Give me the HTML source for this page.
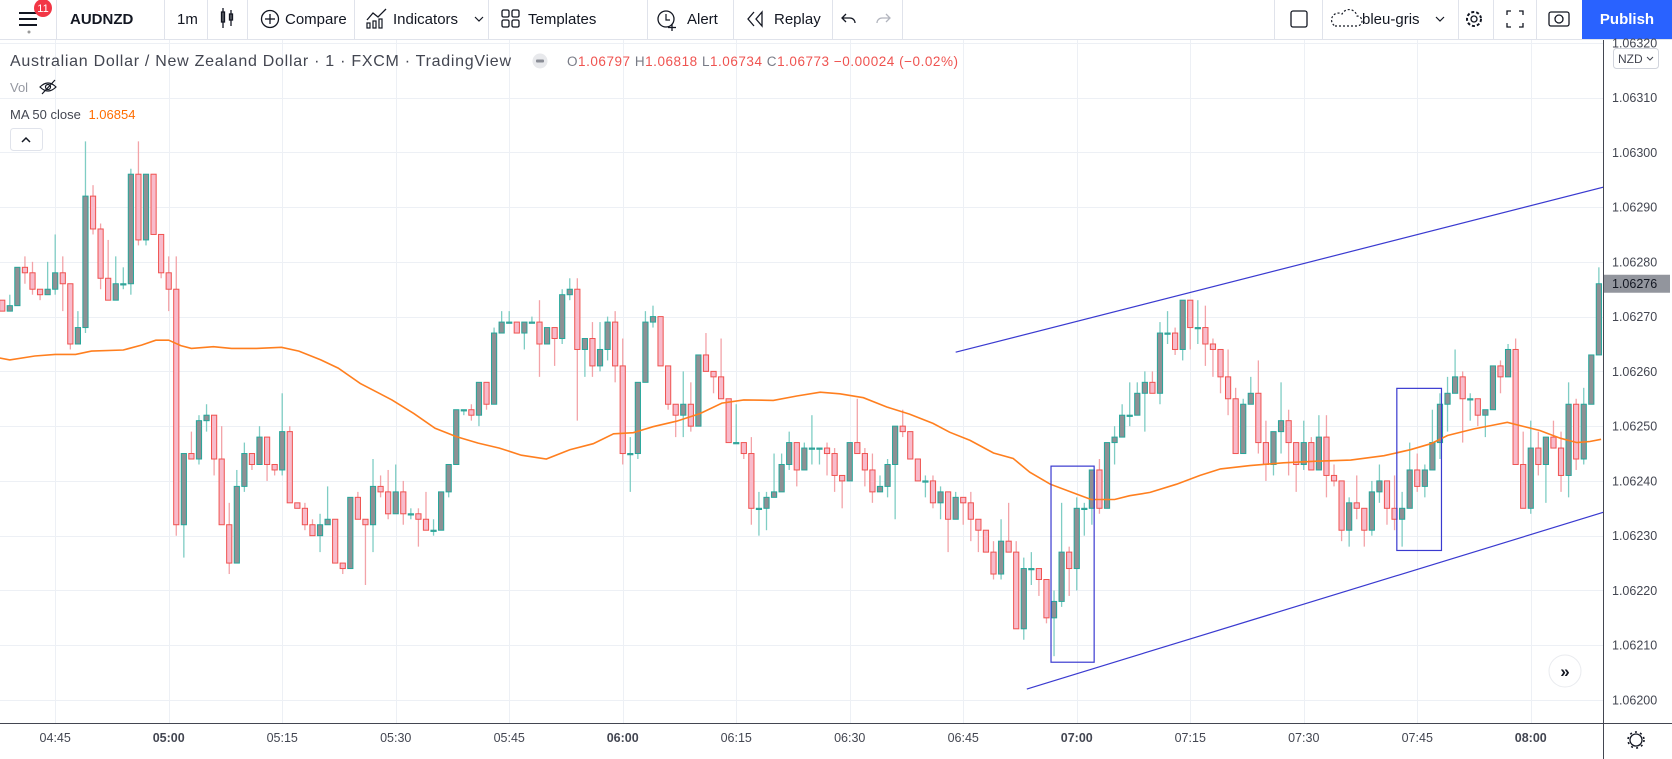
<!DOCTYPE html>
<html><head><meta charset="utf-8"><style>
html,body{margin:0;padding:0;background:#fff;}
svg{display:block;font-family:"Liberation Sans",sans-serif;}
</style></head><body>
<svg id="chart" width="1672" height="759" viewBox="0 0 1672 759" xmlns="http://www.w3.org/2000/svg">
<g id="grid"></g>
<g id="plot"></g>
<!-- toolbar -->
<g>
<rect x="0" y="0" width="1672" height="39" fill="#fff"/>
<line x1="0" y1="39.5" x2="1672" y2="39.5" stroke="#e0e3eb"/>
<g stroke="#131722" stroke-width="2"><line x1="19" y1="13" x2="37" y2="13"/><line x1="19" y1="19" x2="37" y2="19"/><line x1="19" y1="25" x2="37" y2="25"/></g>
<circle cx="29" cy="32" r="1.5" fill="#999"/>
<g><circle cx="43" cy="8" r="9" fill="#f23645"/><text x="43" y="12" font-size="11" fill="#fff" text-anchor="middle">11</text></g>
<g stroke="#e0e3eb"><line x1="56.5" y1="0" x2="56.5" y2="39"/><line x1="164.5" y1="0" x2="164.5" y2="39"/><line x1="207.5" y1="0" x2="207.5" y2="39"/><line x1="247.5" y1="0" x2="247.5" y2="39"/><line x1="354.5" y1="0" x2="354.5" y2="39"/><line x1="488.5" y1="0" x2="488.5" y2="39"/><line x1="647.5" y1="0" x2="647.5" y2="39"/><line x1="733.5" y1="0" x2="733.5" y2="39"/><line x1="832.5" y1="0" x2="832.5" y2="39"/><line x1="902.5" y1="0" x2="902.5" y2="39"/>
<line x1="1274.5" y1="0" x2="1274.5" y2="39"/><line x1="1322.5" y1="0" x2="1322.5" y2="39"/><line x1="1458.5" y1="0" x2="1458.5" y2="39"/><line x1="1493.5" y1="0" x2="1493.5" y2="39"/><line x1="1536.5" y1="0" x2="1536.5" y2="39"/></g>
<text x="70" y="24" font-size="15" font-weight="bold" fill="#131722">AUDNZD</text>
<text x="177" y="24" font-size="15" fill="#131722">1m</text>
<g stroke="#131722" fill="none" stroke-width="1.3"><rect x="221.5" y="12" width="3" height="10"/><line x1="223" y1="8" x2="223" y2="28"/><rect x="229.5" y="14" width="3" height="6"/><line x1="231" y1="10" x2="231" y2="26"/></g>
<g><circle cx="270" cy="19" r="8.5" fill="none" stroke="#131722" stroke-width="1.3"/><line x1="265" y1="19" x2="275" y2="19" stroke="#131722" stroke-width="1.3"/><line x1="270" y1="14" x2="270" y2="24" stroke="#131722" stroke-width="1.3"/><text x="285" y="24" font-size="15" fill="#131722">Compare</text></g>
<g><polyline points="367,20 373,13 378,17 386,9" fill="none" stroke="#131722" stroke-width="1.3"/><g fill="none" stroke="#131722" stroke-width="1.2"><rect x="367" y="23" width="3" height="5"/><rect x="373" y="21" width="3" height="7"/><rect x="379" y="19" width="3" height="9"/></g><text x="393" y="24" font-size="15" fill="#131722">Indicators</text><polyline points="475,17 479,21 483,17" fill="none" stroke="#131722" stroke-width="1.2"/></g>
<g><g fill="none" stroke="#131722" stroke-width="1.3"><rect x="502" y="10" width="7" height="7" rx="1.5"/><rect x="512" y="10" width="7" height="7" rx="1.5"/><rect x="502" y="20" width="7" height="7" rx="1.5"/><rect x="512" y="20" width="7" height="7" rx="1.5"/></g><text x="528" y="24" font-size="15" fill="#131722">Templates</text></g>
<g><circle cx="666" cy="19" r="8" fill="none" stroke="#131722" stroke-width="1.3"/><polyline points="666,14 666,20 670,20" fill="none" stroke="#131722" stroke-width="1.2"/><line x1="672" y1="24" x2="672" y2="31" stroke="#131722" stroke-width="1.3"/><line x1="668" y1="27.5" x2="676" y2="27.5" stroke="#131722" stroke-width="1.3"/><text x="687" y="24" font-size="15" fill="#131722">Alert</text></g>
<g><polyline points="754,12 748,19 754,26" fill="none" stroke="#131722" stroke-width="1.3"/><polygon points="762,12 756,19 762,26" fill="none" stroke="#131722" stroke-width="1.3"/><text x="774" y="24" font-size="15" fill="#131722">Replay</text></g>
<g><path d="M846 14 l-4 4 l4 4 M842 18 h8 a5 5 0 0 1 5 5" fill="none" stroke="#131722" stroke-width="1.3"/></g>
<g><path d="M886 14 l4 4 l-4 4 M890 18 h-8 a5 5 0 0 0 -5 5" fill="none" stroke="#b2b5be" stroke-width="1.3"/></g>
<rect x="1291" y="11" width="16" height="16" rx="2" fill="none" stroke="#131722" stroke-width="1.3"/>
<g><path d="M1335 26 h22 a5 5 0 0 0 0 -10 a8 8 0 0 0 -15 -2 a6 6 0 0 0 -7 12z" fill="none" stroke="#131722" stroke-width="1.2" stroke-dasharray="2 2"/><text x="1362" y="24" font-size="15" fill="#131722">bleu-gris</text><polyline points="1436,17 1440,21 1444,17" fill="none" stroke="#131722" stroke-width="1.2"/></g>
<g><circle cx="1474" cy="19" r="7" fill="none" stroke="#131722" stroke-width="2" stroke-dasharray="3 2"/><circle cx="1474" cy="19" r="3" fill="none" stroke="#131722" stroke-width="1.3"/></g>
<g fill="none" stroke="#131722" stroke-width="1.3"><polyline points="1507,15 1507,11 1511,11"/><polyline points="1519,11 1523,11 1523,15"/><polyline points="1507,23 1507,27 1511,27"/><polyline points="1519,27 1523,27 1523,23"/></g>
<g fill="none" stroke="#131722" stroke-width="1.3"><rect x="1549" y="12" width="20" height="14" rx="2"/><circle cx="1559" cy="19" r="4"/></g>
<g><rect x="1582" y="0" width="90" height="39" fill="#2962ff"/><text x="1627" y="24" font-size="15" font-weight="bold" fill="#fff" text-anchor="middle">Publish</text></g>
</g>
<!-- legend -->
<g>
<text x="10" y="66" font-size="16" fill="#434651" textLength="501">Australian Dollar / New Zealand Dollar · 1 · FXCM · TradingView</text>
<g><circle cx="540" cy="61" r="7.5" fill="#e8e9ec"/><rect x="536" y="59.5" width="8" height="3" rx="1" fill="#8a8d96"/></g>
<text x="567" y="66" font-size="13.5" fill="#ef5350" textLength="391"><tspan fill="#787b86">O</tspan>1.06797 <tspan fill="#787b86">H</tspan>1.06818 <tspan fill="#787b86">L</tspan>1.06734 <tspan fill="#787b86">C</tspan>1.06773 −0.00024 (−0.02%)</text>
<text x="10" y="92" font-size="13" fill="#9598a1">Vol</text>
<g fill="none" stroke="#131722" stroke-width="1.2"><path d="M40 87 q8 -8 16 0 q-8 8 -16 0z"/><circle cx="48" cy="87" r="2.5"/><line x1="42" y1="94" x2="55" y2="80"/></g>
<text x="10" y="119" font-size="13" fill="#434651">MA 50 close <tspan fill="#ff6d00" dx="4">1.06854</tspan></text>
<g><rect x="10.5" y="128.5" width="32" height="22" rx="3" fill="#fff" stroke="#e0e3eb"/><polyline points="22,142 26,138 30,142" fill="none" stroke="#131722" stroke-width="1.5"/></g>
</g>
<!-- axes -->
<g id="axes"></g>
<g><circle cx="1565" cy="671" r="16" fill="#fff" stroke="#e9ebef"/><text x="1565" y="677" font-size="17" font-weight="bold" text-anchor="middle" fill="#131722">»</text></g>
</svg>
<script>
const NS="http://www.w3.org/2000/svg";
// ---- data ----
const startTime="04:38"; // first candle time, 1-minute bars
const opens=[1.06273,1.06271,1.06272,1.06279,1.06278,1.06275,1.06274,1.06275,1.06278,1.06276,1.06265,1.06268,1.06292,1.06286,1.06277,1.06273,1.06276,1.06276,1.06296,1.06284,1.06296,1.06285,1.06278,1.06275,1.06232,1.06245,1.06244,1.06251,1.06252,1.06244,1.06232,1.06225,1.06239,1.06245,1.06243,1.06248,1.06243,1.06242,1.06249,1.06236,1.06235,1.06232,1.06230,1.06232,1.06233,1.06225,1.06224,1.06237,1.06233,1.06232,1.06239,1.06238,1.06234,1.06238,1.06234,1.06234,1.06233,1.06231,1.06231,1.06238,1.06243,1.06253,1.06253,1.06252,1.06258,1.06254,1.06267,1.06269,1.06269,1.06267,1.06269,1.06269,1.06265,1.06268,1.06266,1.06274,1.06275,1.06264,1.06266,1.06261,1.06264,1.06269,1.06261,1.06245,1.06245,1.06258,1.06269,1.06270,1.06261,1.06254,1.06252,1.06254,1.06250,1.06263,1.06260,1.06259,1.06255,1.06247,1.06247,1.06245,1.06235,1.06235,1.06237,1.06238,1.06243,1.06247,1.06242,1.06246,1.06246,1.06246,1.06245,1.06241,1.06240,1.06247,1.06245,1.06242,1.06238,1.06239,1.06243,1.06250,1.06249,1.06244,1.06240,1.06240,1.06236,1.06238,1.06233,1.06237,1.06236,1.06233,1.06231,1.06227,1.06223,1.06229,1.06227,1.06213,1.06224,1.06224,1.06222,1.06215,1.06218,1.06227,1.06224,1.06235,1.06235,1.06242,1.06235,1.06247,1.06248,1.06252,1.06252,1.06256,1.06258,1.06256,1.06267,1.06267,1.06264,1.06273,1.06268,1.06268,1.06265,1.06264,1.06259,1.06255,1.06245,1.06254,1.06256,1.06247,1.06243,1.06249,1.06251,1.06247,1.06243,1.06247,1.06242,1.06248,1.06241,1.06240,1.06231,1.06236,1.06235,1.06231,1.06238,1.06240,1.06235,1.06233,1.06235,1.06242,1.06239,1.06242,1.06247,1.06254,1.06256,1.06259,1.06255,1.06255,1.06252,1.06253,1.06261,1.06259,1.06264,1.06243,1.06235,1.06246,1.06243,1.06248,1.06246,1.06241,1.06254,1.06244,1.06254,1.06263];
const highs=[1.06273,1.06274,1.06279,1.06281,1.06280,1.06275,1.06280,1.06285,1.06281,1.06276,1.06271,1.06302,1.06294,1.06287,1.06284,1.06281,1.06279,1.06297,1.06302,1.06296,1.06296,1.06285,1.06281,1.06281,1.06245,1.06249,1.06252,1.06254,1.06252,1.06250,1.06236,1.06242,1.06247,1.06245,1.06250,1.06248,1.06243,1.06256,1.06250,1.06236,1.06236,1.06233,1.06234,1.06239,1.06233,1.06225,1.06237,1.06238,1.06233,1.06244,1.06241,1.06242,1.06243,1.06240,1.06235,1.06235,1.06238,1.06233,1.06238,1.06243,1.06253,1.06253,1.06254,1.06258,1.06258,1.06268,1.06271,1.06271,1.06269,1.06269,1.06270,1.06273,1.06268,1.06268,1.06275,1.06277,1.06277,1.06266,1.06269,1.06269,1.06270,1.06271,1.06266,1.06248,1.06258,1.06271,1.06272,1.06270,1.06261,1.06254,1.06260,1.06258,1.06263,1.06267,1.06260,1.06266,1.06255,1.06254,1.06247,1.06248,1.06238,1.06238,1.06245,1.06245,1.06249,1.06247,1.06247,1.06252,1.06246,1.06247,1.06246,1.06241,1.06247,1.06255,1.06246,1.06245,1.06241,1.06244,1.06250,1.06253,1.06249,1.06244,1.06241,1.06241,1.06239,1.06238,1.06238,1.06237,1.06238,1.06233,1.06231,1.06229,1.06233,1.06236,1.06229,1.06226,1.06227,1.06224,1.06222,1.06220,1.06236,1.06228,1.06237,1.06236,1.06242,1.06244,1.06247,1.06250,1.06254,1.06258,1.06258,1.06260,1.06260,1.06269,1.06271,1.06268,1.06273,1.06273,1.06273,1.06272,1.06266,1.06264,1.06264,1.06257,1.06255,1.06259,1.06262,1.06251,1.06249,1.06258,1.06253,1.06247,1.06251,1.06248,1.06252,1.06252,1.06243,1.06240,1.06237,1.06241,1.06235,1.06240,1.06243,1.06240,1.06241,1.06238,1.06247,1.06245,1.06243,1.06253,1.06256,1.06259,1.06264,1.06260,1.06256,1.06255,1.06253,1.06261,1.06262,1.06265,1.06266,1.06249,1.06251,1.06249,1.06248,1.06251,1.06249,1.06258,1.06255,1.06257,1.06263,1.06279];
const lows=[1.06271,1.06271,1.06272,1.06276,1.06274,1.06273,1.06274,1.06274,1.06271,1.06264,1.06265,1.06267,1.06285,1.06275,1.06273,1.06273,1.06275,1.06274,1.06283,1.06283,1.06285,1.06277,1.06271,1.06230,1.06226,1.06244,1.06243,1.06249,1.06241,1.06232,1.06223,1.06225,1.06238,1.06242,1.06243,1.06240,1.06241,1.06241,1.06236,1.06235,1.06231,1.06230,1.06227,1.06232,1.06225,1.06223,1.06224,1.06233,1.06221,1.06227,1.06237,1.06233,1.06234,1.06232,1.06233,1.06228,1.06231,1.06230,1.06231,1.06237,1.06243,1.06252,1.06251,1.06250,1.06253,1.06254,1.06267,1.06269,1.06267,1.06264,1.06269,1.06259,1.06265,1.06261,1.06265,1.06273,1.06251,1.06259,1.06259,1.06260,1.06262,1.06258,1.06243,1.06238,1.06244,1.06258,1.06268,1.06261,1.06253,1.06248,1.06248,1.06249,1.06250,1.06260,1.06256,1.06255,1.06247,1.06247,1.06244,1.06232,1.06230,1.06231,1.06237,1.06238,1.06242,1.06239,1.06242,1.06243,1.06243,1.06241,1.06238,1.06235,1.06240,1.06245,1.06239,1.06236,1.06238,1.06237,1.06233,1.06248,1.06244,1.06240,1.06237,1.06235,1.06233,1.06227,1.06233,1.06232,1.06229,1.06227,1.06227,1.06222,1.06222,1.06227,1.06213,1.06211,1.06221,1.06219,1.06214,1.06208,1.06217,1.06219,1.06220,1.06230,1.06232,1.06234,1.06235,1.06243,1.06248,1.06250,1.06252,1.06249,1.06256,1.06254,1.06265,1.06263,1.06262,1.06264,1.06265,1.06261,1.06259,1.06256,1.06252,1.06245,1.06245,1.06254,1.06245,1.06240,1.06241,1.06245,1.06241,1.06238,1.06242,1.06242,1.06242,1.06237,1.06239,1.06229,1.06228,1.06233,1.06228,1.06230,1.06236,1.06232,1.06231,1.06228,1.06235,1.06238,1.06237,1.06242,1.06244,1.06249,1.06256,1.06247,1.06251,1.06250,1.06248,1.06253,1.06256,1.06259,1.06243,1.06235,1.06234,1.06241,1.06236,1.06246,1.06238,1.06237,1.06242,1.06243,1.06254,1.06263];
const closes=[1.06271,1.06272,1.06279,1.06278,1.06275,1.06274,1.06275,1.06278,1.06276,1.06265,1.06268,1.06292,1.06286,1.06277,1.06273,1.06276,1.06276,1.06296,1.06284,1.06296,1.06285,1.06278,1.06275,1.06232,1.06245,1.06244,1.06251,1.06252,1.06244,1.06232,1.06225,1.06239,1.06245,1.06243,1.06248,1.06243,1.06242,1.06249,1.06236,1.06235,1.06232,1.06230,1.06232,1.06233,1.06225,1.06224,1.06237,1.06233,1.06232,1.06239,1.06238,1.06234,1.06238,1.06234,1.06234,1.06233,1.06231,1.06231,1.06238,1.06243,1.06253,1.06253,1.06252,1.06258,1.06254,1.06267,1.06269,1.06269,1.06267,1.06269,1.06269,1.06265,1.06268,1.06266,1.06274,1.06275,1.06264,1.06266,1.06261,1.06264,1.06269,1.06261,1.06245,1.06245,1.06258,1.06269,1.06270,1.06261,1.06254,1.06252,1.06254,1.06250,1.06263,1.06260,1.06259,1.06255,1.06247,1.06247,1.06245,1.06235,1.06235,1.06237,1.06238,1.06243,1.06247,1.06242,1.06246,1.06246,1.06246,1.06245,1.06241,1.06240,1.06247,1.06245,1.06242,1.06238,1.06239,1.06243,1.06250,1.06249,1.06244,1.06240,1.06240,1.06236,1.06238,1.06233,1.06237,1.06236,1.06233,1.06231,1.06227,1.06223,1.06229,1.06227,1.06213,1.06224,1.06224,1.06222,1.06215,1.06218,1.06227,1.06224,1.06235,1.06235,1.06242,1.06235,1.06247,1.06248,1.06252,1.06252,1.06256,1.06258,1.06256,1.06267,1.06267,1.06264,1.06273,1.06268,1.06268,1.06265,1.06264,1.06259,1.06255,1.06245,1.06254,1.06256,1.06247,1.06243,1.06249,1.06251,1.06247,1.06243,1.06247,1.06242,1.06248,1.06241,1.06240,1.06231,1.06236,1.06235,1.06231,1.06238,1.06240,1.06235,1.06233,1.06235,1.06242,1.06239,1.06242,1.06247,1.06254,1.06256,1.06259,1.06255,1.06255,1.06252,1.06253,1.06261,1.06259,1.06264,1.06243,1.06235,1.06246,1.06243,1.06248,1.06246,1.06241,1.06254,1.06244,1.06254,1.06263,1.06276];
// MA 50 (minutes after 04:45, value)
const maMinutes=[-7.5,-6,-2.7,0,2.7,4.8,9,11.4,13.3,15,16.6,18,20.9,23.3,26.6,29.9,32.2,35.1,37.4,40.3,44.5,47.4,50.2,53,55.9,58.7,61.6,64.9,68,71.1,73.8,76.4,79,82.1,85.2,88.1,91,94.9,98,101.1,103.7,106.8,109.9,112.9,116,118.2,120.9,124,126.6,128.8,131.5,135,136.9,140,142,144.7,148.2,151.3,154,157.9,162.3,166.7,171.2,175.6,179.1,181.8,184,187.5,189.7,191.9,193.6,196.2,198.9,201.1,202.8,204.3];
const maValues=[1.062625,1.062621,1.062628,1.062631,1.062631,1.062637,1.062639,1.062648,1.062657,1.062657,1.062647,1.062642,1.062645,1.062642,1.062642,1.062644,1.062637,1.062621,1.062606,1.062578,1.062548,1.062523,1.062496,1.062481,1.062469,1.06246,1.062447,1.06244,1.062457,1.062468,1.062486,1.062488,1.062499,1.062509,1.062523,1.062542,1.062548,1.062547,1.062555,1.062562,1.062559,1.062552,1.062535,1.062522,1.062505,1.062489,1.062474,1.062451,1.062441,1.062416,1.062394,1.062376,1.062366,1.062366,1.062373,1.062379,1.062394,1.06241,1.062422,1.062428,1.062433,1.062436,1.062438,1.062446,1.062457,1.062468,1.062483,1.062495,1.062501,1.062507,1.062501,1.062492,1.062478,1.06247,1.062472,1.062476];
const priceTicks=[1.0620,1.0621,1.0622,1.0623,1.0624,1.0625,1.0626,1.0627,1.0628,1.0629,1.0630,1.0631,1.0632];
const timeTicks=["04:45","05:00","05:15","05:30","05:45","06:00","06:15","06:30","06:45","07:00","07:15","07:30","07:45","08:00"];
const lastPrice=1.06276;
// drawings: [time minutes after 04:45, price]
const upperTrend=[[119,1.062635],[206.5,1.062943]];
const lowerTrend=[[128.4,1.06202],[207.5,1.062355]];
const boxes=[[131.6,137.3,1.062427,1.062069],[177.3,183.2,1.062569,1.062273]];

// ---- scales ----
const X0=55.2, PXMIN=7.567, PLOT_R=1603, PLOT_T=40, PLOT_B=723;
function toMin(t){const p=t.split(":");return (+p[0])*60+(+p[1]);}
const REF=toMin("04:45");
function xMin(m){return X0+m*PXMIN;}
function xTime(t){return xMin(toMin(t)-REF);}
function yP(p){return 700-(p-1.062)*547700;}

const grid=document.getElementById('grid'), plot=document.getElementById('plot'), axes=document.getElementById('axes');
function mk(tag,attrs,parent){const e=document.createElementNS(NS,tag);for(const k in attrs)e.setAttribute(k,attrs[k]);parent.appendChild(e);return e;}

// clip
const defs=mk('defs',{},document.getElementById('chart'));
const cp=mk('clipPath',{id:'pc'},defs);mk('rect',{x:0,y:PLOT_T,width:PLOT_R,height:PLOT_B-PLOT_T},cp);
plot.setAttribute('clip-path','url(#pc)');

// grid
priceTicks.forEach(p=>{const y=Math.round(yP(p))+0.5;
 const l=mk('line',{x1:0,x2:PLOT_R,y1:y,y2:y,stroke:'#edf0f5'},grid);
 
 });
timeTicks.forEach(t=>{const x=Math.round(xTime(t))+0.5;
 const l=mk('line',{x1:x,x2:x,y1:PLOT_T,y2:PLOT_B,stroke:'#edf0f5'},grid);
 
 });

// candles
const s0=toMin(startTime)-REF;
for(let i=0;i<closes.length;i++){
 const o=opens[i],h=highs[i],l=lows[i],c=closes[i];
 const up=c>=o;const x=xMin(s0+i);
 const g=mk('g',{},plot);
 
 
 mk('line',{x1:x,x2:x,y1:yP(h),y2:yP(l),stroke:up?'#7fcdc4':'#f3a3a8','stroke-width':1.3},g);
 const yt=yP(Math.max(o,c)),yb=yP(Math.min(o,c));
 mk('rect',{x:x-2.6,y:yt,width:5.2,height:Math.max(yb-yt,1.2),fill:up?'#8e9094':'#f8bbcb',stroke:up?'#26a69a':'#ef5350','stroke-width':1},g);
}
// MA
let pts=maMinutes.map((m,i)=>xMin(m).toFixed(1)+','+yP(maValues[i]).toFixed(1)).join(' ');
const ma=mk('polyline',{points:pts,fill:'none',stroke:'#ff7f1f','stroke-width':1.6},plot);


// trend lines
[upperTrend,lowerTrend].forEach((tl,k)=>{
 const l=mk('line',{x1:xMin(tl[0][0]),y1:yP(tl[0][1]),x2:xMin(tl[1][0]),y2:yP(tl[1][1]),stroke:'#3a3ad0','stroke-width':1.2},plot);
 
 
});
boxes.forEach(b=>{
 const r=mk('rect',{x:xMin(b[0]),y:yP(b[2]),width:xMin(b[1])-xMin(b[0]),height:yP(b[3])-yP(b[2]),fill:'none',stroke:'#3a3ad0','stroke-width':1.2},plot);
 
 
});

// axes
mk('rect',{x:PLOT_R,y:PLOT_T,width:1672-PLOT_R,height:759-PLOT_T,fill:'#fff'},axes);
mk('rect',{x:0,y:PLOT_B,width:1672,height:759-PLOT_B,fill:'#fff'},axes);
mk('line',{x1:PLOT_R+0.5,x2:PLOT_R+0.5,y1:PLOT_T,y2:759,stroke:'#434651'},axes);
mk('line',{x1:0,x2:1672,y1:PLOT_B+0.5,y2:PLOT_B+0.5,stroke:'#434651'},axes);
priceTicks.forEach(p=>{const t=mk('text',{x:1612,y:yP(p)+4.5,'font-size':12.5,fill:'#434651'},axes);t.textContent=p.toFixed(5);
 
 });
timeTicks.forEach(tt=>{const t=mk('text',{x:xTime(tt),y:742,'font-size':12.5,fill:'#434651','text-anchor':'middle','font-weight':tt.endsWith(':00')?'bold':'normal'},axes);t.textContent=tt;
 
 });
// last price label
const lp=mk('g',{},axes);


mk('rect',{x:PLOT_R+1,y:yP(lastPrice)-9,width:66,height:18,fill:'#92959d'},lp);
const lpt=mk('text',{x:1612,y:yP(lastPrice)+4.5,'font-size':12.5,fill:'#131722'},lp);lpt.textContent=lastPrice.toFixed(5);
// currency button
const nz=mk('g',{},axes);


mk('rect',{x:1613.5,y:48.5,width:45,height:20,rx:3,fill:'#fff',stroke:'#d1d4dc'},nz);
const nzt=mk('text',{x:1618,y:63,'font-size':12,fill:'#434651'},nz);nzt.textContent='NZD';
mk('polyline',{points:'1647,57 1650,60 1653,57',fill:'none',stroke:'#434651'},nz);
// settings gear
const gear=mk('g',{},axes);


mk('circle',{cx:1636,cy:740,r:6,fill:'none',stroke:'#131722','stroke-width':1.3},gear);
mk('circle',{cx:1636,cy:740,r:8,fill:'none',stroke:'#131722','stroke-width':1.6,'stroke-dasharray':'2 3.2'},gear);
</script>
</body></html>
